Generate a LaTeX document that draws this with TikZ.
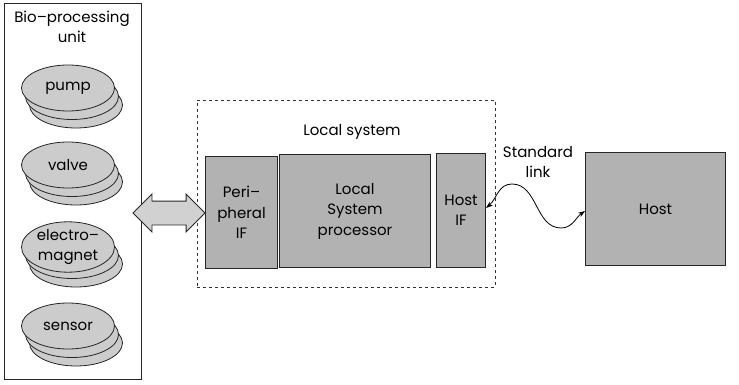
\documentclass[tikz,border=0pt]{standalone}
\usepackage{fontspec}
\setmainfont{Poppins}
\usetikzlibrary{shapes.geometric,shapes.arrows,arrows.meta}
\tikzset{
  lbl/.style={font=\fontsize{15}{20.5}\selectfont, align=center, inner sep=0pt},
  blk/.style={draw=black!85, line width=1pt, fill=black!30, anchor=north west, inner sep=0pt},
  disc/.style={ellipse, draw=black!85, line width=0.8pt, fill=black!20, minimum width=93pt, minimum height=46pt, inner sep=0pt},
  link/.style={line width=0.8pt, {Stealth[length=7pt,width=5pt]}-{Stealth[length=7pt,width=5pt]}},
}
\newcommand{\stackdisc}[3]{%
  \node[disc] (#1c) at (76,#2+17) {};
  \node[disc] (#1b) at (72,#2+8.5) {};
  \node[disc, lbl] (#1) at (68,#2) {#3};
}
\begin{document}
\begin{tikzpicture}[x=1pt,y=-1pt]
\useasboundingbox (0,0) rectangle (739,385);
% Bio-processing unit
\node[draw=black!85, line width=0.8pt, anchor=north west, minimum width=137pt, minimum height=376pt, inner sep=0pt] (bio) at (4,3) {};
\node[lbl] (biolbl) at (72,27) {Bio–processing\\unit};
\stackdisc{pump}{88}{pump}
\stackdisc{valve}{165}{valve}
\stackdisc{em}{247}{electro–\\magnet}
\stackdisc{sensor}{326}{sensor}
% Local system
\node[draw=black!80, dashed, line width=0.7pt, anchor=north west, minimum width=298pt, minimum height=187pt, inner sep=0pt] (local) at (197,100) {};
\node[lbl] (locallbl) at (352,132) {Local system};
\node[blk, minimum width=72pt, minimum height=112pt] (pif) at (205,156) {};
\node[lbl] at (pif.center) {Peri–\\pheral\\IF};
\node[blk, minimum width=151pt, minimum height=113pt] (lsp) at (279,154) {};
\node[lbl] at (lsp.center) {Local\\System\\processor};
\node[blk, minimum width=49pt, minimum height=114pt] (hif) at (436,153) {};
\node[lbl] at (hif.center) {Host\\IF};
% Host
\node[blk, minimum width=140pt, minimum height=113pt] (host) at (585,152) {};
\node[lbl] at (host.center) {Host};
% double arrow
\node[double arrow, draw=black!85, line width=0.8pt, fill=black!18, inner xsep=0pt, inner ysep=11.5pt, minimum height=72pt, double arrow head extend=7pt] (darrow) at (169,213) {};
% standard link
\node[lbl] (stdlbl) at (538,162) {Standard\\link};
\coordinate (a) at (hif.east |- 0,208);
\coordinate (pk) at (512,184);
\coordinate (tr) at (561,228);
\coordinate (b) at (host.west |- 0,211);
\draw[link] (a) to[out=40,in=180] (pk) to[out=0,in=180] (tr) to[out=0,in=215] (b);
\end{tikzpicture}
\end{document}
